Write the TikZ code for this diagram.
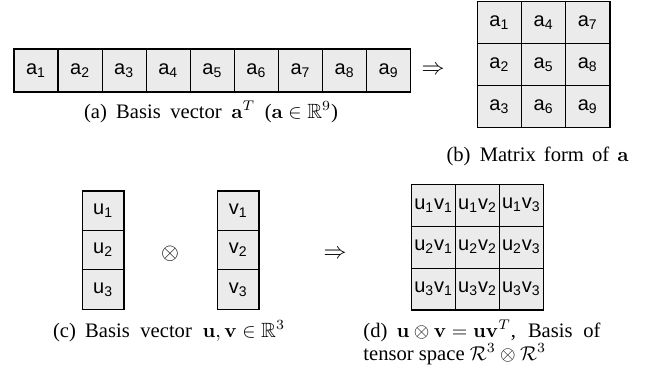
\documentclass[tikz,border=0pt]{standalone}
\usepackage[no-math]{fontspec}
\setmainfont{Liberation Serif}
\setsansfont{Liberation Sans}
\usepackage{amsmath,amssymb}
\usepackage{graphicx}
\definecolor{cellgray}{HTML}{EBEBEB}
\newcommand{\cellsub}[1]{\textsubscript{#1}}
\newcommand{\capsetup}{\rmfamily\fontsize{10.3}{12}\selectfont\thickmuskip=5mu\relax\medmuskip=4mu\relax}
\newcommand{\labgap}{\hspace{0.45em}}
\begin{document}
\begin{tikzpicture}[x=0.5pt,y=-0.5pt,
  cellbase/.style={draw=black, line width=0.6pt, fill=cellgray, inner sep=0pt,
    font=\sffamily\fontsize{10}{12}\selectfont},
  acell/.style={cellbase, minimum width=22.04pt, minimum height=21.5pt},
  bcell/.style={cellbase, minimum width=22.1pt, minimum height=21pt},
  ucell/.style={cellbase, minimum width=20.85pt, minimum height=19.72pt},
  dcell/.style={cellbase, minimum width=21.94pt, minimum height=20.95pt},
  sym/.style={inner sep=0pt},
  captext/.style={inner sep=0pt, font=\capsetup}]
\useasboundingbox (0,0) rectangle (656,377);
% (a) row vector
\foreach \i in {1,...,9}
  \node[acell] (a\i) at ({14+44.08*(\i-0.5)},70.5) {a\cellsub{\i}};
\node[sym] (arrA) at (433,70) {\scalebox{1.15}{$\Rightarrow$}};
\node[captext, anchor=base] (capA) at (211,118)
  {\makebox[127pt][s]{(a)\labgap Basis vector $\mathbf{a}^T$ ($\mathbf{a}\in\mathbb{R}^9$)}};
% (b) matrix form
\foreach \col in {0,1,2}
  \foreach \row in {0,1,2} {
    \pgfmathtruncatemacro\k{3*\col+\row+1}
    \node[bcell] (b\k) at ({477.3+44.2*(\col+0.5)},{1.7+42*(\row+0.5)}) {a\cellsub{\k}};
  }
\node[captext, anchor=base] (capB) at (537.5,161)
  {\makebox[91pt][s]{(b)\labgap Matrix form of $\mathbf{a}$}};
% (c) u and v
\foreach \row in {1,2,3} {
  \node[ucell] (u\row) at (103.2,{191+39.43*(\row-0.5)}) {u\cellsub{\row}};
  \node[ucell] (v\row) at (238.2,{191+39.43*(\row-0.5)}) {v\cellsub{\row}};
}
\node[sym] (otimesC) at (170,254) {\scalebox{1.15}{$\otimes$}};
\node[sym] (arrC) at (335,254) {\scalebox{1.15}{$\Rightarrow$}};
\node[captext, anchor=base] (capC) at (169,337)
  {\makebox[116pt][s]{(c)\labgap Basis vector $\mathbf{u},\mathbf{v}\in\mathbb{R}^3$}};
% (d) tensor product
\foreach \row in {1,2,3}
  \foreach \col in {1,2,3}
    \node[dcell] (d\row\col) at ({411.7+43.87*(\col-0.5)},{184.3+41.9*(\row-0.5)})
      {u\cellsub{\row}v\cellsub{\col}};
\node[captext, anchor=base west] (capD1) at (363,337)
  {\makebox[118.5pt][s]{(d)\labgap $\mathbf{u}\otimes\mathbf{v}=\mathbf{u}\mathbf{v}^T$, Basis of}};
\node[captext, anchor=base west] (capD2) at (363,360)
  {tensor space $\mathcal{R}^3\otimes\mathcal{R}^3$};
\end{tikzpicture}
\end{document}
